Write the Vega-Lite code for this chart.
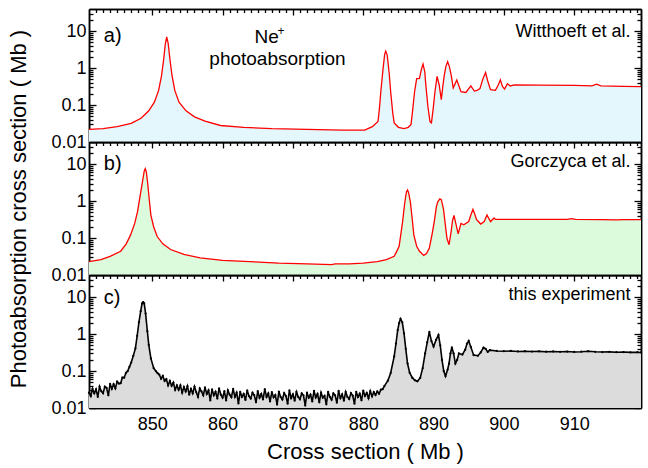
{
  "$schema": "https://vega.github.io/schema/vega-lite/v6.json",
  "padding": {"left": 7, "top": 8, "right": 7, "bottom": 5},
  "bounds": "flush",
  "spacing": 0,
  "config": {
    "font": "Liberation Sans",
    "view": {"stroke": null},
    "axis": {
      "zindex": 1, "grid": false, "domain": true, "domainColor": "black", "domainWidth": 1.5,
      "tickColor": "black", "tickWidth": 1.3, "labelColor": "black", "labelFontSize": 18,
      "titleColor": "black", "titleFontSize": 22, "titleFontWeight": "normal", "labelFont": "Liberation Sans", "titleFont": "Liberation Sans"
    }
  },
  "datasets": {
    "a": [
      {"x":841,"y":0.022},{"x":843,"y":0.023},{"x":845,"y":0.026},{"x":847,"y":0.032},{"x":848.4,"y":0.044},{"x":849.5,"y":0.07},{"x":850.3,"y":0.12},{"x":850.9,"y":0.25},{"x":851.3,"y":0.6},{"x":851.6,"y":1.6},{"x":851.85,"y":4.5},{"x":852.05,"y":7.0},{"x":852.25,"y":4.8},{"x":852.5,"y":1.8},{"x":852.8,"y":0.65},{"x":853.2,"y":0.25},{"x":853.8,"y":0.12},{"x":854.8,"y":0.07},{"x":856,"y":0.048},{"x":857.5,"y":0.037},{"x":859.7,"y":0.028},{"x":863,"y":0.025},{"x":867,"y":0.023},{"x":872,"y":0.022},{"x":877,"y":0.021},{"x":880.2,"y":0.021},{"x":881.3,"y":0.026},{"x":882.1,"y":0.036},{"x":882.3,"y":0.08},{"x":882.5,"y":0.23},{"x":882.8,"y":0.9},{"x":883.05,"y":2.4},{"x":883.2,"y":2.9},{"x":883.4,"y":2.3},{"x":883.7,"y":0.7},{"x":883.9,"y":0.23},{"x":884.2,"y":0.06},{"x":884.4,"y":0.033},{"x":885,"y":0.025},{"x":885.8,"y":0.023},{"x":886.4,"y":0.025},{"x":886.8,"y":0.03},{"x":887.05,"y":0.08},{"x":887.3,"y":0.23},{"x":887.6,"y":0.52},{"x":888,"y":0.53},{"x":888.25,"y":0.9},{"x":888.5,"y":1.3},{"x":888.75,"y":0.8},{"x":888.9,"y":0.35},{"x":889.2,"y":0.09},{"x":889.5,"y":0.035},{"x":889.7,"y":0.033},{"x":889.95,"y":0.08},{"x":890.2,"y":0.23},{"x":890.5,"y":0.6},{"x":890.8,"y":0.35},{"x":891.1,"y":0.14},{"x":891.3,"y":0.3},{"x":891.5,"y":0.6},{"x":891.75,"y":1.1},{"x":892,"y":1.5},{"x":892.25,"y":1.1},{"x":892.5,"y":0.66},{"x":892.8,"y":0.29},{"x":893.3,"y":0.48},{"x":893.9,"y":0.23},{"x":894.6,"y":0.22},{"x":895.3,"y":0.33},{"x":895.8,"y":0.24},{"x":896.2,"y":0.25},{"x":896.6,"y":0.28},{"x":897,"y":0.5},{"x":897.4,"y":0.76},{"x":897.7,"y":0.45},{"x":898.1,"y":0.26},{"x":898.8,"y":0.25},{"x":899.2,"y":0.35},{"x":899.5,"y":0.48},{"x":899.8,"y":0.32},{"x":900.1,"y":0.27},{"x":900.5,"y":0.38},{"x":900.9,"y":0.33},{"x":901.5,"y":0.35},{"x":905,"y":0.345},{"x":910,"y":0.34},{"x":912.5,"y":0.33},{"x":913.2,"y":0.37},{"x":913.8,"y":0.33},{"x":917,"y":0.32},{"x":919.5,"y":0.315}
    ],
    "b": [
      {"x":841,"y":0.023},{"x":842.7,"y":0.026},{"x":844,"y":0.032},{"x":845.5,"y":0.044},{"x":846.3,"y":0.07},{"x":846.9,"y":0.12},{"x":847.5,"y":0.25},{"x":847.9,"y":0.52},{"x":848.3,"y":1.5},{"x":848.6,"y":3.3},{"x":848.85,"y":6.5},{"x":849,"y":7.6},{"x":849.15,"y":6.2},{"x":849.35,"y":3.0},{"x":849.55,"y":1.2},{"x":849.8,"y":0.42},{"x":850.2,"y":0.2},{"x":850.7,"y":0.11},{"x":851.5,"y":0.07},{"x":852.6,"y":0.049},{"x":854.5,"y":0.036},{"x":856.8,"y":0.029},{"x":860,"y":0.025},{"x":863.9,"y":0.023},{"x":868,"y":0.021},{"x":872,"y":0.02},{"x":875.5,"y":0.019},{"x":876,"y":0.02},{"x":878,"y":0.02},{"x":880,"y":0.021},{"x":882,"y":0.023},{"x":883.3,"y":0.026},{"x":884.4,"y":0.032},{"x":884.8,"y":0.045},{"x":885.1,"y":0.06},{"x":885.4,"y":0.15},{"x":885.6,"y":0.28},{"x":885.85,"y":0.75},{"x":886,"y":1.2},{"x":886.15,"y":1.8},{"x":886.3,"y":2.0},{"x":886.45,"y":1.7},{"x":886.7,"y":0.96},{"x":886.95,"y":0.35},{"x":887.2,"y":0.12},{"x":887.6,"y":0.06},{"x":888,"y":0.044},{"x":888.6,"y":0.034},{"x":889,"y":0.038},{"x":889.4,"y":0.054},{"x":889.8,"y":0.13},{"x":890.1,"y":0.28},{"x":890.4,"y":0.7},{"x":890.6,"y":0.96},{"x":890.9,"y":1.15},{"x":891.1,"y":1.1},{"x":891.4,"y":0.63},{"x":891.65,"y":0.25},{"x":891.9,"y":0.1},{"x":892.2,"y":0.066},{"x":892.5,"y":0.15},{"x":892.7,"y":0.3},{"x":892.9,"y":0.41},{"x":893.2,"y":0.23},{"x":893.5,"y":0.13},{"x":893.9,"y":0.25},{"x":894.3,"y":0.23},{"x":895,"y":0.28},{"x":895.3,"y":0.42},{"x":895.6,"y":0.6},{"x":895.85,"y":0.45},{"x":896.1,"y":0.32},{"x":896.7,"y":0.24},{"x":897.2,"y":0.28},{"x":897.6,"y":0.42},{"x":898.1,"y":0.28},{"x":898.6,"y":0.35},{"x":898.8,"y":0.32},{"x":900,"y":0.32},{"x":905,"y":0.32},{"x":909,"y":0.32},{"x":909.6,"y":0.335},{"x":910.2,"y":0.32},{"x":914,"y":0.315},{"x":916,"y":0.31},{"x":917,"y":0.315},{"x":919.5,"y":0.315}
    ],
    "c": [
      {"x":841,"y":0.026},{"x":841.25,"y":0.021},{"x":841.5,"y":0.033},{"x":841.75,"y":0.025},{"x":842,"y":0.032},{"x":842.25,"y":0.020},{"x":842.5,"y":0.038},{"x":842.75,"y":0.0285},{"x":843,"y":0.025},{"x":843.25,"y":0.038},{"x":843.5,"y":0.035},{"x":843.75,"y":0.022},{"x":844,"y":0.045},{"x":844.25,"y":0.033},{"x":844.5,"y":0.044},{"x":844.75,"y":0.034},{"x":845,"y":0.052},{"x":845.25,"y":0.046},{"x":845.5,"y":0.047},{"x":845.75,"y":0.067},{"x":846,"y":0.066},{"x":846.25,"y":0.089},{"x":846.5,"y":0.1},{"x":846.75,"y":0.13},{"x":847,"y":0.17},{"x":847.3,"y":0.26},{"x":847.6,"y":0.41},{"x":847.85,"y":0.9},{"x":848.1,"y":2.1},{"x":848.35,"y":4.2},{"x":848.55,"y":6.8},{"x":848.7,"y":7.4},{"x":848.85,"y":6.8},{"x":849.05,"y":3.6},{"x":849.3,"y":1.2},{"x":849.5,"y":0.51},{"x":849.8,"y":0.22},{"x":850.2,"y":0.12},{"x":850.5,"y":0.1},{"x":850.75,"y":0.088},
      {"x":851,"y":0.080},{"x":851.25,"y":0.062},{"x":851.5,"y":0.074},{"x":851.75,"y":0.054},{"x":852,"y":0.061},{"x":852.25,"y":0.041},{"x":852.5,"y":0.054},{"x":852.75,"y":0.040},{"x":853,"y":0.049},{"x":853.25,"y":0.031},{"x":853.5,"y":0.041},{"x":853.75,"y":0.031},{"x":854,"y":0.041},{"x":854.25,"y":0.026},{"x":854.5,"y":0.037},{"x":854.75,"y":0.028},{"x":855,"y":0.039},{"x":855.25,"y":0.023},{"x":855.5,"y":0.033},{"x":855.75,"y":0.025},{"x":856,"y":0.038},{"x":856.25,"y":0.027},{"x":856.5,"y":0.020},{"x":856.75,"y":0.034},{"x":857,"y":0.028},{"x":857.25,"y":0.022},{"x":857.5,"y":0.036},{"x":857.75,"y":0.024},{"x":858,"y":0.030},{"x":858.25,"y":0.016},{"x":858.5,"y":0.032},{"x":858.75,"y":0.022},{"x":859,"y":0.0275},{"x":859.25,"y":0.018},{"x":859.5,"y":0.034},{"x":859.75,"y":0.023},{"x":860,"y":0.019},{"x":860.25,"y":0.0286},{"x":860.5,"y":0.016},{"x":860.75,"y":0.030},{"x":861,"y":0.023},{"x":861.25,"y":0.0196},{"x":861.5,"y":0.033},{"x":861.75,"y":0.020},{"x":862,"y":0.026},{"x":862.25,"y":0.0133},{"x":862.5,"y":0.0275},{"x":862.75,"y":0.020},{"x":863,"y":0.024},{"x":863.25,"y":0.0165},{"x":863.5,"y":0.030},{"x":863.75,"y":0.021},{"x":864,"y":0.018},{"x":864.25,"y":0.026},{"x":864.5,"y":0.0224},{"x":864.75,"y":0.0143},{"x":865,"y":0.0286},{"x":865.25,"y":0.019},{"x":865.5,"y":0.024},{"x":865.75,"y":0.017},{"x":866,"y":0.0324},{"x":866.25,"y":0.020},{"x":866.5,"y":0.025},{"x":866.75,"y":0.015},{"x":867,"y":0.027},{"x":867.25,"y":0.0194},{"x":867.5,"y":0.0225},{"x":867.75,"y":0.0124},{"x":868,"y":0.0278},{"x":868.25,"y":0.020},{"x":868.5,"y":0.017},{"x":868.75,"y":0.0254},{"x":869,"y":0.0212},{"x":869.25,"y":0.0131},{"x":869.5,"y":0.030},{"x":869.75,"y":0.0185},{"x":870,"y":0.0235},{"x":870.25,"y":0.0158},{"x":870.5,"y":0.0273},{"x":870.75,"y":0.020},{"x":871,"y":0.0172},{"x":871.25,"y":0.0248},{"x":871.5,"y":0.022},{"x":871.75,"y":0.0116},{"x":872,"y":0.026},{"x":872.25,"y":0.019},{"x":872.5,"y":0.023},{"x":872.75,"y":0.015},{"x":873,"y":0.029},{"x":873.25,"y":0.0193},{"x":873.5,"y":0.024},{"x":873.75,"y":0.0143},{"x":874,"y":0.026},{"x":874.25,"y":0.019},{"x":874.5,"y":0.0214},{"x":874.75,"y":0.0126},{"x":875,"y":0.0273},{"x":875.25,"y":0.020},{"x":875.5,"y":0.0168},{"x":875.75,"y":0.025},{"x":876,"y":0.022},{"x":876.25,"y":0.0139},{"x":876.5,"y":0.029},{"x":876.75,"y":0.0185},{"x":877,"y":0.0235},{"x":877.25,"y":0.0158},{"x":877.5,"y":0.0273},{"x":877.75,"y":0.020},{"x":878,"y":0.0174},{"x":878.25,"y":0.0253},{"x":878.5,"y":0.0216},{"x":878.75,"y":0.0131},{"x":879,"y":0.0275},{"x":879.25,"y":0.0198},{"x":879.5,"y":0.0244},{"x":879.75,"y":0.0161},{"x":880,"y":0.0294},{"x":880.25,"y":0.0212},{"x":880.5,"y":0.0256},{"x":880.75,"y":0.0184},{"x":881,"y":0.0288},{"x":881.25,"y":0.0207},{"x":881.5,"y":0.027},{"x":881.75,"y":0.0225},{"x":882,"y":0.028},{"x":882.25,"y":0.0243},{"x":882.5,"y":0.0315},{"x":882.75,"y":0.0323},{"x":883,"y":0.039},
      {"x":883.5,"y":0.055},{"x":883.9,"y":0.089},{"x":884.4,"y":0.25},{"x":884.65,"y":0.55},{"x":884.9,"y":1.29},{"x":885.1,"y":2.0},{"x":885.3,"y":2.6},{"x":885.55,"y":2.1},{"x":885.8,"y":1.05},{"x":886.05,"y":0.4},{"x":886.3,"y":0.16},{"x":886.6,"y":0.09},{"x":887,"y":0.065},{"x":887.35,"y":0.056},{"x":887.7,"y":0.053},{"x":888.1,"y":0.065},{"x":888.45,"y":0.12},{"x":888.8,"y":0.3},{"x":889.1,"y":0.6},{"x":889.4,"y":1.15},{"x":889.7,"y":0.65},{"x":890,"y":0.46},{"x":890.35,"y":0.7},{"x":890.7,"y":0.95},{"x":890.95,"y":0.5},{"x":891.2,"y":0.2},{"x":891.45,"y":0.1},{"x":891.7,"y":0.073},{"x":892,"y":0.11},{"x":892.2,"y":0.16},{"x":892.4,"y":0.3},{"x":892.6,"y":0.44},{"x":892.85,"y":0.3},{"x":893.1,"y":0.16},{"x":893.35,"y":0.2},{"x":893.6,"y":0.3},{"x":894.1,"y":0.28},{"x":894.5,"y":0.38},{"x":894.75,"y":0.55},{"x":895,"y":0.66},{"x":895.3,"y":0.45},{"x":895.7,"y":0.27},{"x":896.3,"y":0.26},{"x":896.7,"y":0.32},{"x":897.1,"y":0.43},{"x":897.4,"y":0.4},{"x":897.7,"y":0.33},{"x":898,"y":0.37},{"x":899,"y":0.35},{"x":900,"y":0.345},{"x":901,"y":0.35},{"x":902,"y":0.34},{"x":903,"y":0.345},{"x":904,"y":0.338},{"x":905,"y":0.342},{"x":906,"y":0.335},{"x":907,"y":0.34},{"x":908,"y":0.333},{"x":909,"y":0.338},{"x":910,"y":0.33},{"x":911,"y":0.335},{"x":912,"y":0.345},{"x":913,"y":0.333},{"x":914,"y":0.328},{"x":915,"y":0.332},{"x":916,"y":0.325},{"x":917,"y":0.328},{"x":918,"y":0.322},{"x":919,"y":0.325},{"x":919.5,"y":0.32}
    ]
  },
  "vconcat": [
    {
      "width": 552, "height": 133,
      "resolve": {"axis": {"x": "independent", "y": "independent"}},
      "layer": [
        {"data": {"name": "a"}, "mark": {"type": "area", "color": "#e4f7fc"},
         "encoding": {
           "x": {"field": "x", "type": "quantitative", "scale": {"domain": [841, 919.5], "nice": false, "zero": false}, "axis": {"orient": "bottom", "values": [850,860,870,880,890,900,910], "tickSize": -6, "labels": false, "title": null}},
           "y": {"field": "y", "type": "quantitative", "scale": {"type": "log", "domain": [0.01, 40], "nice": false}, "axis": {"orient": "left", "values": [0.01,0.1,1,10], "format": "~g", "tickSize": -7, "labelPadding": 10, "title": null}},
           "y2": {"datum": 0.01}}},
        {"data": {"name": "a"}, "mark": {"type": "line", "color": "#ff0000", "strokeWidth": 1.3},
         "encoding": {
           "x": {"field": "x", "type": "quantitative", "scale": {"domain": [841, 919.5], "nice": false, "zero": false}, "axis": {"orient": "top", "values": [850,860,870,880,890,900,910], "tickSize": -6, "labels": false, "title": null}},
           "y": {"field": "y", "type": "quantitative", "scale": {"type": "log", "domain": [0.01, 40], "nice": false}, "axis": {"orient": "right", "values": [0.01,0.1,1,10], "tickSize": -7, "labels": false, "title": null}}}},
        {"data": {"values": [{}]}, "mark": {"type": "text", "text": "a)", "align": "left", "baseline": "middle", "fontSize": 20, "color": "black"},
         "encoding": {
           "x": {"datum": 843.1, "type": "quantitative", "scale": {"domain": [841, 919.5], "nice": false, "zero": false}, "axis": {"orient": "bottom", "values": [842,843,844,845,846,847,848,849,851,852,853,854,855,856,857,858,859,861,862,863,864,865,866,867,868,869,871,872,873,874,875,876,877,878,879,881,882,883,884,885,886,887,888,889,891,892,893,894,895,896,897,898,899,901,902,903,904,905,906,907,908,909,911,912,913,914,915,916,917,918,919], "tickSize": -3.5, "labels": false, "title": null}},
           "y": {"datum": 7.2, "type": "quantitative", "scale": {"type": "log", "domain": [0.01, 40], "nice": false}, "axis": {"orient": "left", "values": [0.02,0.03,0.04,0.05,0.06,0.07,0.08,0.09,0.2,0.3,0.4,0.5,0.6,0.7,0.8,0.9,2,3,4,5,6,7,8,9,20,30], "tickSize": -4, "labels": false, "title": null}}}},
        {"data": {"values": [{}]}, "mark": {"type": "text", "text": "Witthoeft et al.", "align": "right", "baseline": "middle", "fontSize": 18, "color": "black"},
         "encoding": {
           "x": {"datum": 918, "type": "quantitative", "scale": {"domain": [841, 919.5], "nice": false, "zero": false}, "axis": {"orient": "top", "values": [842,843,844,845,846,847,848,849,851,852,853,854,855,856,857,858,859,861,862,863,864,865,866,867,868,869,871,872,873,874,875,876,877,878,879,881,882,883,884,885,886,887,888,889,891,892,893,894,895,896,897,898,899,901,902,903,904,905,906,907,908,909,911,912,913,914,915,916,917,918,919], "tickSize": -3.5, "labels": false, "title": null}},
           "y": {"datum": 9.8, "type": "quantitative", "scale": {"type": "log", "domain": [0.01, 40], "nice": false}, "axis": {"orient": "right", "values": [0.02,0.03,0.04,0.05,0.06,0.07,0.08,0.09,0.2,0.3,0.4,0.5,0.6,0.7,0.8,0.9,2,3,4,5,6,7,8,9,20,30], "tickSize": -4, "labels": false, "title": null}}}},
        {"data": {"values": [{}]}, "mark": {"type": "text", "text": "Ne", "align": "center", "baseline": "middle", "fontSize": 19, "color": "black"},
         "encoding": {
           "x": {"datum": 866.25, "type": "quantitative", "scale": {"domain": [841, 919.5], "nice": false, "zero": false}, "axis": null},
           "y": {"datum": 6.9, "type": "quantitative", "scale": {"type": "log", "domain": [0.01, 40], "nice": false}, "axis": null}}},
        {"data": {"values": [{}]}, "mark": {"type": "text", "text": "+", "align": "center", "baseline": "middle", "fontSize": 12, "color": "black"},
         "encoding": {
           "x": {"datum": 868.3, "type": "quantitative", "scale": {"domain": [841, 919.5], "nice": false, "zero": false}, "axis": null},
           "y": {"datum": 10, "type": "quantitative", "scale": {"type": "log", "domain": [0.01, 40], "nice": false}, "axis": null}}},
        {"data": {"values": [{}]}, "mark": {"type": "text", "text": "photoabsorption", "align": "center", "baseline": "middle", "fontSize": 19, "color": "black"},
         "encoding": {
           "x": {"datum": 867.8, "type": "quantitative", "scale": {"domain": [841, 919.5], "nice": false, "zero": false}, "axis": null},
           "y": {"datum": 1.79, "type": "quantitative", "scale": {"type": "log", "domain": [0.01, 40], "nice": false}, "axis": null}}}
      ]
    },
    {
      "width": 552, "height": 133,
      "resolve": {"axis": {"x": "independent", "y": "independent"}},
      "layer": [
        {"data": {"name": "b"}, "mark": {"type": "area", "color": "#dcfadc"},
         "encoding": {
           "x": {"field": "x", "type": "quantitative", "scale": {"domain": [841, 919.5], "nice": false, "zero": false}, "axis": {"orient": "bottom", "values": [850,860,870,880,890,900,910], "tickSize": -6, "labels": false, "title": null}},
           "y": {"field": "y", "type": "quantitative", "scale": {"type": "log", "domain": [0.01, 40], "nice": false}, "axis": {"orient": "left", "values": [0.01,0.1,1,10], "format": "~g", "tickSize": -7, "labelPadding": 10, "title": "Photoabsorption cross section  ( Mb )", "titlePadding": 20}},
           "y2": {"datum": 0.01}}},
        {"data": {"name": "b"}, "mark": {"type": "line", "color": "#ff0000", "strokeWidth": 1.3},
         "encoding": {
           "x": {"field": "x", "type": "quantitative", "scale": {"domain": [841, 919.5], "nice": false, "zero": false}, "axis": {"orient": "top", "values": [850,860,870,880,890,900,910], "tickSize": -6, "labels": false, "title": null}},
           "y": {"field": "y", "type": "quantitative", "scale": {"type": "log", "domain": [0.01, 40], "nice": false}, "axis": {"orient": "right", "values": [0.01,0.1,1,10], "tickSize": -7, "labels": false, "title": null}}}},
        {"data": {"values": [{}]}, "mark": {"type": "text", "text": "b)", "align": "left", "baseline": "middle", "fontSize": 20, "color": "black"},
         "encoding": {
           "x": {"datum": 843.1, "type": "quantitative", "scale": {"domain": [841, 919.5], "nice": false, "zero": false}, "axis": {"orient": "bottom", "values": [842,843,844,845,846,847,848,849,851,852,853,854,855,856,857,858,859,861,862,863,864,865,866,867,868,869,871,872,873,874,875,876,877,878,879,881,882,883,884,885,886,887,888,889,891,892,893,894,895,896,897,898,899,901,902,903,904,905,906,907,908,909,911,912,913,914,915,916,917,918,919], "tickSize": -3.5, "labels": false, "title": null}},
           "y": {"datum": 10, "type": "quantitative", "scale": {"type": "log", "domain": [0.01, 40], "nice": false}, "axis": {"orient": "left", "values": [0.02,0.03,0.04,0.05,0.06,0.07,0.08,0.09,0.2,0.3,0.4,0.5,0.6,0.7,0.8,0.9,2,3,4,5,6,7,8,9,20,30], "tickSize": -4, "labels": false, "title": null}}}},
        {"data": {"values": [{}]}, "mark": {"type": "text", "text": "Gorczyca et al.", "align": "right", "baseline": "middle", "fontSize": 18, "color": "black"},
         "encoding": {
           "x": {"datum": 918, "type": "quantitative", "scale": {"domain": [841, 919.5], "nice": false, "zero": false}, "axis": {"orient": "top", "values": [842,843,844,845,846,847,848,849,851,852,853,854,855,856,857,858,859,861,862,863,864,865,866,867,868,869,871,872,873,874,875,876,877,878,879,881,882,883,884,885,886,887,888,889,891,892,893,894,895,896,897,898,899,901,902,903,904,905,906,907,908,909,911,912,913,914,915,916,917,918,919], "tickSize": -3.5, "labels": false, "title": null}},
           "y": {"datum": 11.4, "type": "quantitative", "scale": {"type": "log", "domain": [0.01, 40], "nice": false}, "axis": {"orient": "right", "values": [0.02,0.03,0.04,0.05,0.06,0.07,0.08,0.09,0.2,0.3,0.4,0.5,0.6,0.7,0.8,0.9,2,3,4,5,6,7,8,9,20,30], "tickSize": -4, "labels": false, "title": null}}}}
      ]
    },
    {
      "width": 552, "height": 133,
      "resolve": {"axis": {"x": "independent", "y": "independent"}},
      "layer": [
        {"data": {"name": "c"}, "mark": {"type": "area", "color": "#dcdcdc"},
         "encoding": {
           "x": {"field": "x", "type": "quantitative", "scale": {"domain": [841, 919.5], "nice": false, "zero": false}, "axis": {"orient": "bottom", "values": [850,860,870,880,890,900,910], "format": "d", "tickSize": -6, "labelPadding": 13, "title": "Cross section  ( Mb )", "titlePadding": 8}},
           "y": {"field": "y", "type": "quantitative", "scale": {"type": "log", "domain": [0.01, 40], "nice": false}, "axis": {"orient": "left", "values": [0.01,0.1,1,10], "format": "~g", "tickSize": -7, "labelPadding": 10, "title": null}},
           "y2": {"datum": 0.01}}},
        {"data": {"name": "c"}, "mark": {"type": "line", "color": "black", "strokeWidth": 1.6, "point": {"filled": true, "size": 5, "color": "black"}},
         "encoding": {
           "x": {"field": "x", "type": "quantitative", "scale": {"domain": [841, 919.5], "nice": false, "zero": false}, "axis": {"orient": "top", "values": [850,860,870,880,890,900,910], "tickSize": -6, "labels": false, "title": null}},
           "y": {"field": "y", "type": "quantitative", "scale": {"type": "log", "domain": [0.01, 40], "nice": false}, "axis": {"orient": "right", "values": [0.01,0.1,1,10], "tickSize": -7, "labels": false, "title": null}}}},
        {"data": {"values": [{}]}, "mark": {"type": "text", "text": "c)", "align": "left", "baseline": "middle", "fontSize": 20, "color": "black"},
         "encoding": {
           "x": {"datum": 843.1, "type": "quantitative", "scale": {"domain": [841, 919.5], "nice": false, "zero": false}, "axis": {"orient": "bottom", "values": [842,843,844,845,846,847,848,849,851,852,853,854,855,856,857,858,859,861,862,863,864,865,866,867,868,869,871,872,873,874,875,876,877,878,879,881,882,883,884,885,886,887,888,889,891,892,893,894,895,896,897,898,899,901,902,903,904,905,906,907,908,909,911,912,913,914,915,916,917,918,919], "tickSize": -3.5, "labels": false, "title": null}},
           "y": {"datum": 9.5, "type": "quantitative", "scale": {"type": "log", "domain": [0.01, 40], "nice": false}, "axis": {"orient": "left", "values": [0.02,0.03,0.04,0.05,0.06,0.07,0.08,0.09,0.2,0.3,0.4,0.5,0.6,0.7,0.8,0.9,2,3,4,5,6,7,8,9,20,30], "tickSize": -4, "labels": false, "title": null}}}},
        {"data": {"values": [{}]}, "mark": {"type": "text", "text": "this experiment", "align": "right", "baseline": "middle", "fontSize": 18, "color": "black"},
         "encoding": {
           "x": {"datum": 918, "type": "quantitative", "scale": {"domain": [841, 919.5], "nice": false, "zero": false}, "axis": {"orient": "top", "values": [842,843,844,845,846,847,848,849,851,852,853,854,855,856,857,858,859,861,862,863,864,865,866,867,868,869,871,872,873,874,875,876,877,878,879,881,882,883,884,885,886,887,888,889,891,892,893,894,895,896,897,898,899,901,902,903,904,905,906,907,908,909,911,912,913,914,915,916,917,918,919], "tickSize": -3.5, "labels": false, "title": null}},
           "y": {"datum": 11.4, "type": "quantitative", "scale": {"type": "log", "domain": [0.01, 40], "nice": false}, "axis": {"orient": "right", "values": [0.02,0.03,0.04,0.05,0.06,0.07,0.08,0.09,0.2,0.3,0.4,0.5,0.6,0.7,0.8,0.9,2,3,4,5,6,7,8,9,20,30], "tickSize": -4, "labels": false, "title": null}}}}
      ]
    }
  ]
}
